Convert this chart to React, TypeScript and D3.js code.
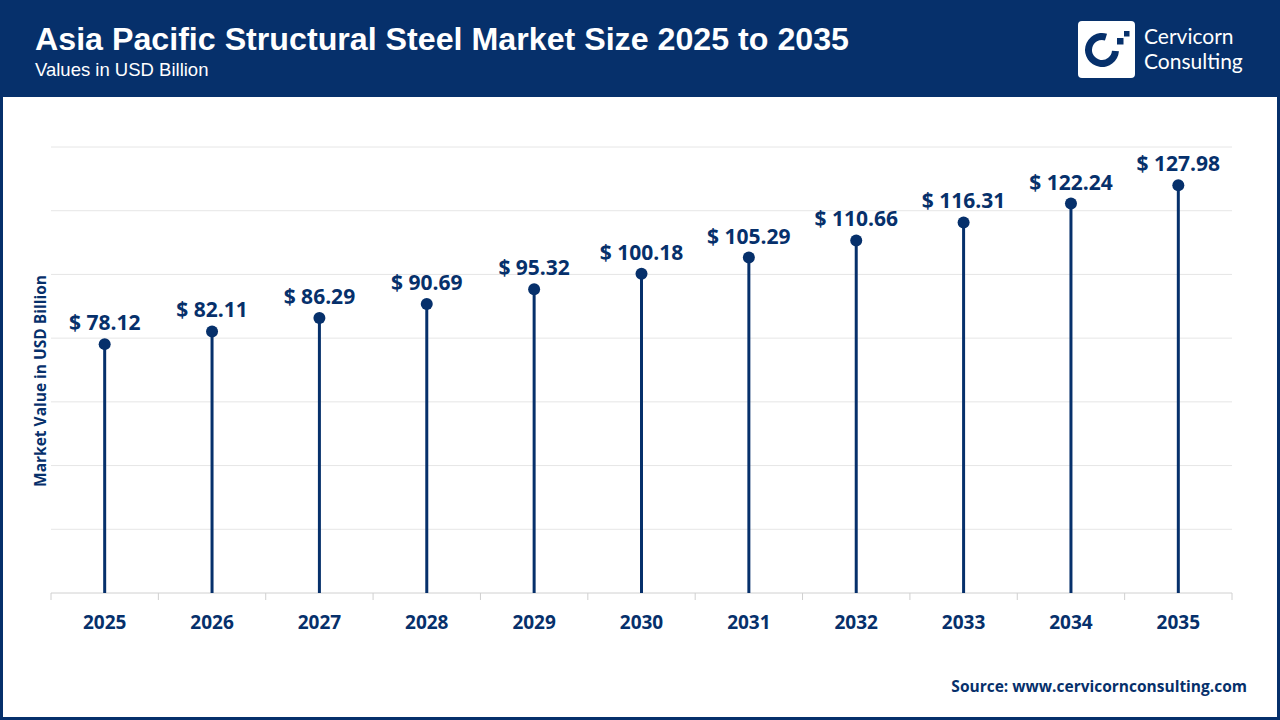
import React, { useRef, useEffect } from 'react';
import * as d3 from 'd3';

const years = ['2025', '2026', '2027', '2028', '2029', '2030', '2031', '2032', '2033', '2034', '2035'];
const values = [78.12, 82.11, 86.29, 90.69, 95.32, 100.18, 105.29, 110.66, 116.31, 122.24, 127.98];
const yTicks = [0, 20, 40, 60, 80, 100, 120, 140];

const NAVY = '#06306b';
const W = 1280;
const H = 720;

function App() {
  const svgRef = useRef(null);

  useEffect(() => {
    const svg = d3.select(svgRef.current);
    svg.selectAll('*').remove();

    const margin = { top: 147, right: 48, bottom: 127, left: 51 };

    // frame + header
    svg.append('rect').attr('width', W).attr('height', H).attr('fill', '#fff');
    svg.append('rect').attr('width', W).attr('height', 97).attr('fill', NAVY);
    svg.append('rect')
      .attr('x', 1.5).attr('y', 1.5).attr('width', W - 3).attr('height', H - 3)
      .attr('fill', 'none').attr('stroke', NAVY).attr('stroke-width', 3);

    svg.append('text')
      .attr('x', 35).attr('y', 50)
      .attr('fill', '#fff').attr('font-family', 'Liberation Sans, Arial, sans-serif')
      .attr('font-weight', 'bold').attr('font-size', 32.2)
      .text('Asia Pacific Structural Steel Market Size 2025 to 2035');
    svg.append('text')
      .attr('x', 35).attr('y', 76)
      .attr('fill', '#fff').attr('font-family', 'Liberation Sans, Arial, sans-serif')
      .attr('font-size', 18.5)
      .text('Values in USD Billion');

    // logo
    const logo = svg.append('g');
    logo.append('rect')
      .attr('x', 1078).attr('y', 21).attr('width', 57).attr('height', 57)
      .attr('rx', 4).attr('fill', '#fff');
    const arc = d3.arc()({ innerRadius: 10, outerRadius: 17, startAngle: 1.65, endAngle: 2 * Math.PI + 0.3 });
    logo.append('path').attr('d', arc).attr('transform', 'translate(1102,50)').attr('fill', NAVY);
    logo.append('rect').attr('x', 1124).attr('y', 31).attr('width', 5.5).attr('height', 5.5).attr('fill', NAVY);
    logo.append('rect').attr('x', 1117).attr('y', 38).attr('width', 6.5).attr('height', 6.5).attr('fill', NAVY);
    logo.append('text')
      .attr('x', 1144).attr('y', 43.5).attr('fill', '#fff')
      .attr('font-family', 'Lato, sans-serif').attr('font-size', 21)
      .text('Cervicorn');
    logo.append('text')
      .attr('x', 1144).attr('y', 69).attr('fill', '#fff')
      .attr('font-family', 'Lato, sans-serif').attr('font-size', 21)
      .text('Consulting');

    const x = d3.scaleBand()
      .domain(years)
      .range([margin.left, W - margin.right]);

    const y = d3.scaleLinear()
      .domain([0, 140])
      .range([H - margin.bottom, margin.top]);

    // gridlines
    svg.append('g')
      .selectAll('line')
      .data(yTicks.slice(1))
      .enter().append('line')
      .attr('x1', margin.left).attr('x2', W - margin.right)
      .attr('y1', d => y(d)).attr('y2', d => y(d))
      .attr('stroke', '#e6e6e6').attr('stroke-width', 1);

    // x axis
    const xAxis = svg.append('g')
      .attr('transform', `translate(0,${y(0)})`);
    xAxis.append('line')
      .attr('x1', margin.left).attr('x2', W - margin.right)
      .attr('stroke', '#d0d0d0').attr('stroke-width', 1);
    xAxis.selectAll('.tick')
      .data(years.map(d => x(d)).concat([W - margin.right]))
      .enter().append('line')
      .attr('x1', d => d).attr('x2', d => d)
      .attr('y1', 0).attr('y2', 7)
      .attr('stroke', '#d0d0d0');
    xAxis.selectAll('text')
      .data(years)
      .enter().append('text')
      .attr('x', d => x(d) + x.bandwidth() / 2)
      .attr('y', 36)
      .attr('text-anchor', 'middle')
      .attr('fill', NAVY)
      .attr('font-family', 'Open Sans, sans-serif')
      .attr('font-weight', 'bold').attr('font-size', 19)
      .text(d => d);

    // y axis label
    svg.append('text')
      .attr('transform', `translate(46,${(y(0) + y(140)) / 2 + 11}) rotate(-90)`)
      .attr('text-anchor', 'middle')
      .attr('fill', NAVY)
      .attr('font-family', 'Open Sans, sans-serif')
      .attr('font-weight', 'bold').attr('font-size', 15.5)
      .text('Market Value in USD Billion');

    // lollipops
    const pts = svg.append('g')
      .selectAll('g')
      .data(values)
      .enter().append('g');

    pts.append('line')
      .attr('x1', (d, i) => x(years[i]) + x.bandwidth() / 2)
      .attr('x2', (d, i) => x(years[i]) + x.bandwidth() / 2)
      .attr('y1', y(0))
      .attr('y2', d => y(d))
      .attr('stroke', NAVY).attr('stroke-width', 3);

    pts.append('circle')
      .attr('cx', (d, i) => x(years[i]) + x.bandwidth() / 2)
      .attr('cy', d => y(d))
      .attr('r', 6)
      .attr('fill', NAVY);

    pts.append('text')
      .attr('x', (d, i) => x(years[i]) + x.bandwidth() / 2)
      .attr('y', d => y(d) - 14)
      .attr('text-anchor', 'middle')
      .attr('fill', NAVY)
      .attr('font-family', 'Open Sans, sans-serif')
      .attr('font-weight', 'bold').attr('font-size', 21)
      .text(d => `$ ${d.toFixed(2)}`);

    // source
    svg.append('text')
      .attr('x', 1247).attr('y', 692)
      .attr('text-anchor', 'end')
      .attr('fill', NAVY)
      .attr('font-family', 'Open Sans, sans-serif')
      .attr('font-weight', 'bold').attr('font-size', 15.5)
      .text('Source: www.cervicornconsulting.com');
  }, []);

  return (
    <svg
      ref={svgRef}
      width={W}
      height={H}
      viewBox={`0 0 ${W} ${H}`}
      style={{ position: 'absolute', left: 0, top: 0, display: 'block' }}
    />
  );
}

export default App;
